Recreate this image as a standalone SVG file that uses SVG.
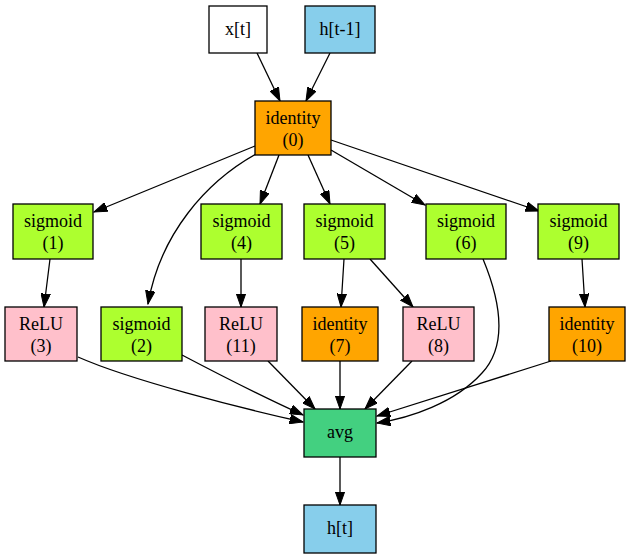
<svg xmlns="http://www.w3.org/2000/svg" width="632" height="559" viewBox="0 0 632 559">
  <style>
    .node rect { stroke: #000; stroke-width: 1.3; }
    .node text { font-family: "Liberation Serif", "Times New Roman", serif; font-size: 18px; fill: #000; text-anchor: middle; }
    .edges path { fill: none; stroke: #000; stroke-width: 1.3; marker-end: url(#arrow); }
    .orange { fill: #ffa500; }
    .green { fill: #adff2f; }
    .pink { fill: #ffc0cb; }
    .sky { fill: #87ceeb; }
    .white { fill: #ffffff; }
    .avg { fill: #43d080; }
  </style>
  <defs>
    <marker id="arrow" markerUnits="userSpaceOnUse" markerWidth="14" markerHeight="10" viewBox="0 0 14 10" refX="13.3" refY="5" orient="auto">
      <path d="M0,0.3 L13.3,5 L0,9.7 Z" fill="#000" stroke="#000" stroke-width="1"/>
    </marker>
  </defs>
  <rect width="632" height="559" fill="#fff"/>

  <g class="edges">
    <path d="M257,53 L280,101"/>
    <path d="M330,53 L306,101"/>
    <path d="M255,146 L94,212"/>
    <path d="M258,153 C205,182 160,235 148,304"/>
    <path d="M279,155 L260,204"/>
    <path d="M308,155 L330,204"/>
    <path d="M331,150 L425,205"/>
    <path d="M331,140 L539,211"/>
    <path d="M50,259 L44,307"/>
    <path d="M241,259 L241,307"/>
    <path d="M344,259 L341,307"/>
    <path d="M370,259 L413,307"/>
    <path d="M582,259 L585,307"/>
    <path d="M483,259 C500,300 508,345 482,373 C455,403 410,418 377,423"/>
    <path d="M551,361 L377,416"/>
    <path d="M78,357 C130,380 240,408 303,422"/>
    <path d="M182,355 C220,375 270,400 303,415"/>
    <path d="M268,361 L315,409"/>
    <path d="M340,361 L340,409"/>
    <path d="M412,361 L365,409"/>
    <path d="M340,457 L340,505"/>
  </g>

  <g id="x_t" class="node"><rect class="white" x="209" y="6" width="58" height="47"/><text x="238" y="35">x[t]</text></g>
  <g id="h_prev" class="node"><rect class="sky" x="305" y="6" width="70" height="47"/><text x="340" y="35">h[t-1]</text></g>
  <g id="n0" class="node"><rect class="orange" x="255" y="101" width="76" height="54"/><text x="293" y="124">identity</text><text x="293" y="146">(0)</text></g>

  <g id="n1" class="node"><rect class="green" x="13" y="204" width="80" height="55"/><text x="53" y="227">sigmoid</text><text x="53" y="249">(1)</text></g>
  <g id="n4" class="node"><rect class="green" x="201" y="204" width="81" height="55"/><text x="241.5" y="227">sigmoid</text><text x="241.5" y="249">(4)</text></g>
  <g id="n5" class="node"><rect class="green" x="304" y="204" width="81" height="55"/><text x="344.5" y="227">sigmoid</text><text x="344.5" y="249">(5)</text></g>
  <g id="n6" class="node"><rect class="green" x="426" y="204" width="80" height="55"/><text x="466" y="227">sigmoid</text><text x="466" y="249">(6)</text></g>
  <g id="n9" class="node"><rect class="green" x="538" y="204" width="81" height="55"/><text x="578.5" y="227">sigmoid</text><text x="578.5" y="249">(9)</text></g>

  <g id="n3" class="node"><rect class="pink" x="5" y="307" width="72" height="54"/><text x="41" y="330">ReLU</text><text x="41" y="352">(3)</text></g>
  <g id="n2" class="node"><rect class="green" x="101" y="307" width="81" height="54"/><text x="141.5" y="330">sigmoid</text><text x="141.5" y="352">(2)</text></g>
  <g id="n11" class="node"><rect class="pink" x="205" y="307" width="72" height="54"/><text x="241" y="330">ReLU</text><text x="241" y="352">(11)</text></g>
  <g id="n7" class="node"><rect class="orange" x="302" y="307" width="76" height="54"/><text x="340" y="330">identity</text><text x="340" y="352">(7)</text></g>
  <g id="n8" class="node"><rect class="pink" x="403" y="307" width="71" height="54"/><text x="438.5" y="330">ReLU</text><text x="438.5" y="352">(8)</text></g>
  <g id="n10" class="node"><rect class="orange" x="549" y="307" width="76" height="54"/><text x="587" y="330">identity</text><text x="587" y="352">(10)</text></g>

  <g id="avg" class="node"><rect class="avg" x="304" y="409" width="72" height="48"/><text x="340" y="438">avg</text></g>
  <g id="h_t" class="node"><rect class="sky" x="304" y="505" width="72" height="48"/><text x="340" y="534">h[t]</text></g>
</svg>
